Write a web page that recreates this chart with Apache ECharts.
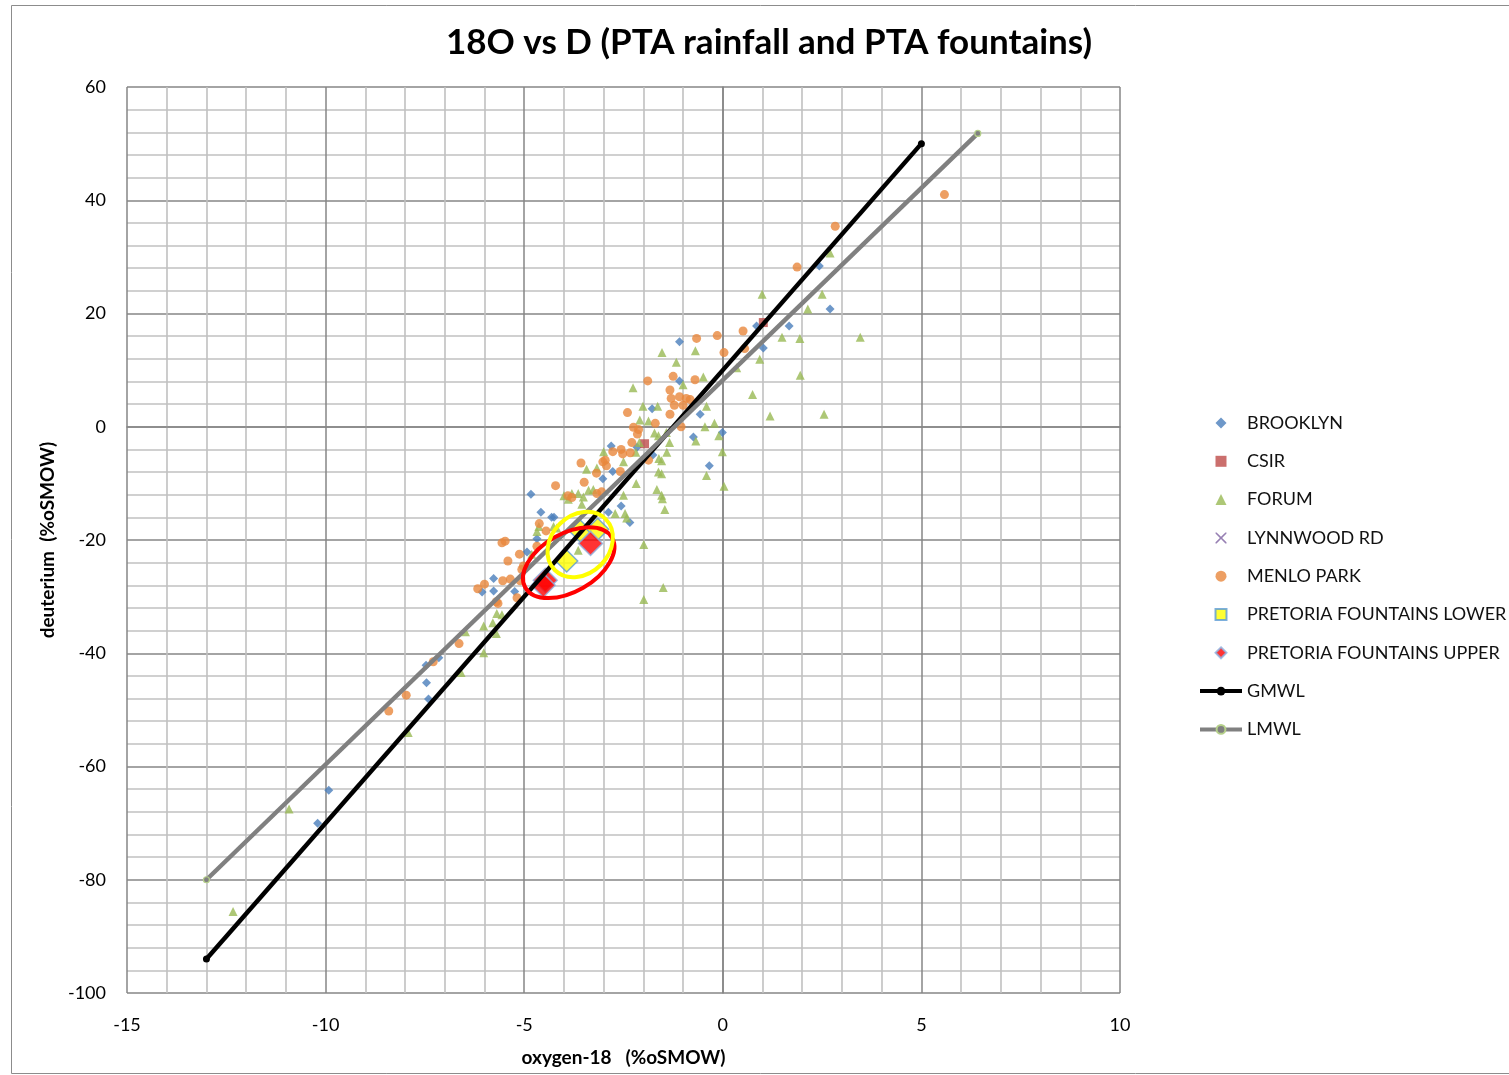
<!DOCTYPE html>
<html>
<head>
<meta charset="utf-8">
<script src="https://cdn.jsdelivr.net/npm/echarts@6/dist/echarts.min.js"></script>
<style>
html,body{margin:0;padding:0;background:#fff;}
#chart{width:1509px;height:1075px;}
</style>
</head>
<body>
<div id="chart"></div>
<script>
// ---------- DATA ----------
var titleText = '18O vs D (PTA rainfall and PTA fountains)';
var xAxisName = 'oxygen-18   (%oSMOW)';
var yAxisName = 'deuterium  (%oSMOW)';
var xTicks = [-15, -10, -5, 0, 5, 10];
var yTicks = [-100, -80, -60, -40, -20, 0, 20, 40, 60];

var brooklyn = [
  [2.43,28.4],[2.70,20.8],[0.85,17.8],[1.67,17.8],[1.02,13.9],[-1.09,15.0],[-1.09,8.1],
  [-1.78,3.2],[-0.57,2.2],[-0.74,-1.8],[-0.01,-1.0],[-2.16,-3.6],[-2.81,-3.4],[-1.76,-5.0],
  [-0.34,-6.9],[-2.77,-7.9],[-3.02,-9.2],[-4.83,-11.9],[-2.56,-14.0],[-2.88,-15.1],
  [-2.34,-16.9],[-4.58,-15.1],[-4.31,-16.0],[-4.25,-16.0],[-4.68,-19.8],[-4.93,-22.1],
  [-5.77,-26.8],[-6.06,-29.2],[-5.77,-29.0],[-5.24,-29.1],[-7.15,-40.8],[-7.47,-42.1],
  [-7.46,-45.2],[-7.41,-48.1],[-9.92,-64.2],[-10.2,-70.0]
];
var csir = [[1.02,18.4],[-1.97,-3.0]];
var forum = [
  [2.70,30.7],[0.99,23.4],[2.50,23.4],[2.14,20.8],[1.49,15.8],[1.94,15.6],[3.46,15.8],
  [0.93,11.9],[1.95,9.1],[0.75,5.7],[1.19,1.9],[2.55,2.2],
  [-1.53,13.1],[-0.69,13.4],[0.35,10.4],[-1.17,11.4],[-0.49,8.8],[-1.0,7.4],[-2.26,6.9],
  [-2.01,3.6],[-1.64,3.6],[-0.41,3.6],[-2.09,1.2],[-1.87,1.0],[-0.45,0.0],[-0.21,0.6],
  [-1.72,-1.1],[-1.62,-1.6],[-1.42,-1.0],[-0.68,-2.5],[-0.10,-1.6],[-1.34,-2.8],[-1.41,-4.5],
  [-3.0,-4.4],[-2.50,-6.2],[-1.61,-5.6],[-0.01,-4.4],[-0.41,-8.6],[-1.62,-8.0],[-1.54,-8.3],
  [-2.18,-10.0],[0.03,-10.5],[-1.66,-11.1],[-2.50,-12.1],[-1.54,-12.1],[-2.10,-2.8],
  [-2.19,-4.5],[-1.54,-6.0],[-3.43,-7.5],[-3.17,-7.3],
  [-4.0,-12.2],[-3.80,-11.8],[-3.64,-11.8],[-3.89,-12.8],[-3.38,-11.2],[-3.26,-11.1],
  [-3.51,-12.4],[-3.55,-13.7],[-2.71,-15.3],[-2.46,-15.3],[-2.42,-16.1],[-1.52,-12.7],
  [-1.46,-14.6],[-4.68,-18.5],[-4.63,-17.6],[-4.26,-17.6],[-4.18,-17.9],[-4.81,-22.5],
  [-3.64,-21.8],[-1.99,-20.8],[-1.50,-28.4],[-1.99,-30.5],[-5.69,-33.0],[-5.56,-33.2],
  [-5.79,-34.6],[-6.02,-35.2],[-5.70,-36.5],[-6.48,-36.2],[-6.02,-39.9],[-6.59,-43.4],
  [-7.92,-54.0],[-10.92,-67.5],[-12.33,-85.6]
];
var lynnwood = [];
var menlo = [
  [5.58,41.0],[2.83,35.4],[1.87,28.2],[0.51,16.9],[-0.14,16.1],[-0.66,15.6],[0.03,13.1],
  [0.55,13.8],[-1.89,8.1],[-1.25,8.9],[-0.70,8.3],[-1.33,6.5],[-1.09,5.3],[-0.92,5.0],
  [-0.82,4.8],[-1.30,5.0],[-1.22,3.8],[-1.0,3.8],[-2.40,2.5],[-1.33,2.2],[-1.70,0.6],
  [-1.05,0.0],[-2.25,-0.1],[-2.12,-0.5],[-2.15,-1.3],[-2.29,-2.8],[-2.56,-4.0],[-2.77,-4.4],
  [-2.52,-4.8],[-2.33,-4.6],[-1.87,-5.9],[-2.96,-5.9],[-3.02,-6.2],[-2.93,-6.9],[-2.58,-7.9],
  [-3.57,-6.4],[-3.18,-8.2],[-3.49,-9.8],[-4.21,-10.4],[-3.90,-12.2],[-3.80,-12.5],
  [-3.17,-11.8],[-3.05,-11.5],[-4.62,-17.1],[-4.45,-18.4],[-5.56,-20.5],[-5.48,-20.2],
  [-4.68,-21.1],[-5.12,-22.5],[-5.41,-23.7],[-5.02,-24.6],[-5.06,-25.2],[-5.54,-27.2],
  [-5.35,-26.9],[-5.10,-27.2],[-6.0,-27.8],[-6.17,-28.6],[-5.70,-30.9],[-5.66,-31.2],
  [-5.18,-30.2],[-6.64,-38.3],[-7.29,-41.5],[-7.97,-47.4],[-8.41,-50.2]
];
var ptaLower = [[-3.93,-23.7],[-3.59,-18.4],[-3.15,-18.1]];
var ptaUpper = [[-3.33,-20.6],[-4.47,-27.1],[-4.52,-28.0]];
var gmwl = [[-13,-94],[5,50]];
var lmwl = [[-13,-80],[6.42,51.8]];
// annotation ellipses (centres in data units)
var yellowRingCentre = [-3.59,-20.8];
var redRingCentre = [-3.88,-24.0];

// ---------- CHART ----------
var FONT = 'Lato, "Open Sans", sans-serif';
var chart = echarts.init(document.getElementById('chart'), null, {renderer:'canvas'});

var ICON_DIAMOND = 'path://M5,0L10,5L5,10L0,5Z';
var ICON_RECT = 'path://M0,0L10,0L10,10L0,10Z';
var ICON_TRI = 'path://M5,0L10,10L0,10Z';
var ICON_CIRCLE = 'path://M5,0A5,5,0,1,1,4.99,0Z';
var ICON_X = 'path://M0,0L1,0L5,4L9,0L10,0L10,1L6,5L10,9L10,10L9,10L5,6L1,10L0,10L0,9L4,5L0,1Z';

function sc(name, data, symbol, size, color, extra) {
  return {
    name: name, type: 'scatter', data: data, symbol: symbol, symbolSize: size,
    itemStyle: Object.assign({color: color}, extra || {}), z: 3, animation: false
  };
}

var axisCommon = {
  axisLine: {show: true, lineStyle: {color: '#868686', width: 1.5}},
  axisTick: {show: false},
  minorTick: {show: false, splitNumber: 5},
  splitLine: {show: true, lineStyle: {color: '#868686', width: 1.5}},
  minorSplitLine: {show: true, lineStyle: {color: '#c0c0c0', width: 1.6}},
  axisLabel: {color: '#000', fontFamily: FONT, fontSize: 18},
  nameTextStyle: {color: '#000', fontFamily: FONT, fontSize: 19, fontWeight: 'bold'}
};

var option = {
  backgroundColor: '#fff',
  animation: false,
  title: {
    text: titleText, left: 764, top: 20, textAlign: 'center',
    textStyle: {fontFamily: FONT, fontSize: 35, fontWeight: 'bold', color: '#000'}
  },
  grid: {left: 127, top: 87, width: 993, height: 906, containLabel: false},
  xAxis: Object.assign({}, axisCommon, {
    type: 'value', min: xTicks[0], max: xTicks[xTicks.length-1], interval: xTicks[1]-xTicks[0],
    name: xAxisName, nameLocation: 'middle', nameGap: 55,
    axisLabel: Object.assign({}, axisCommon.axisLabel, {margin: 23})
  }),
  yAxis: Object.assign({}, axisCommon, {
    type: 'value', min: yTicks[0], max: yTicks[yTicks.length-1], interval: yTicks[1]-yTicks[0],
    name: yAxisName, nameLocation: 'middle', nameGap: 67, nameRotate: 90,
    axisLabel: Object.assign({}, axisCommon.axisLabel, {margin: 21})
  }),
  legend: {
    orient: 'vertical', left: 1193, top: 408,
    itemWidth: 42, itemHeight: 11, itemGap: 18.3,
    textStyle: {fontFamily: FONT, fontSize: 18, color: '#111', lineHeight: 20},
    data: [
      {name: 'BROOKLYN', icon: ICON_DIAMOND},
      {name: 'CSIR', icon: ICON_RECT},
      {name: 'FORUM', icon: ICON_TRI},
      {name: 'LYNNWOOD RD', icon: ICON_X},
      {name: 'MENLO PARK', icon: ICON_CIRCLE},
      {name: 'PRETORIA FOUNTAINS LOWER', icon: ICON_RECT},
      {name: 'PRETORIA FOUNTAINS UPPER', icon: ICON_DIAMOND},
      {name: 'GMWL', lineStyle: {width: 4}},
      {name: 'LMWL', lineStyle: {width: 4}}
    ]
  },
  series: [
    sc('BROOKLYN', brooklyn, 'diamond', 9, '#4A7EBB'),
    sc('CSIR', csir, 'rect', 9, '#BE4B48'),
    sc('FORUM', forum, 'triangle', 9, '#98B954'),
    sc('LYNNWOOD RD', lynnwood, ICON_X, 12, '#7D60A0'),
    sc('MENLO PARK', menlo, 'circle', 9, '#E8873C'),
    sc('PRETORIA FOUNTAINS LOWER', ptaLower, 'diamond', 22, '#FFFF00',
       {borderColor: '#5B9BD5', borderWidth: 1.5}),
    sc('PRETORIA FOUNTAINS UPPER', ptaUpper, 'diamond', 24, '#FF0000',
       {borderColor: '#8DB3E2', borderWidth: 1.5}),
    {
      name: 'GMWL', type: 'line', data: gmwl, symbol: 'circle', symbolSize: 7,
      showSymbol: true, lineStyle: {color: '#000', width: 4.5},
      itemStyle: {color: '#000'}, z: 5, animation: false
    },
    {
      name: 'LMWL', type: 'line', data: lmwl, symbol: 'circle', symbolSize: 6,
      showSymbol: true, lineStyle: {color: '#808080', width: 4.5},
      itemStyle: {color: '#808080', borderColor: '#B5D08A', borderWidth: 1.2}, z: 5, animation: false
    }
  ]
};
chart.setOption(option);

function drawRings() {
  var y = chart.convertToPixel({xAxisIndex: 0, yAxisIndex: 0}, yellowRingCentre);
  var r = chart.convertToPixel({xAxisIndex: 0, yAxisIndex: 0}, redRingCentre);
  chart.setOption({
    graphic: [
      {type: 'rect', left: 9, top: 3, shape: {x: 0, y: 0, width: 1600, height: 1068},
       style: {fill: 'none', stroke: '#8c8c8c', lineWidth: 1}, silent: true, z: 0},
      {type: 'ellipse', x: r[0], y: r[1], rotation: Math.PI/6,
       shape: {cx: 0, cy: 0, rx: 50, ry: 29},
       style: {fill: 'none', stroke: '#FF0000', lineWidth: 4}, z: 100, silent: true},
      {type: 'ellipse', x: y[0], y: y[1], rotation: Math.PI/4,
       shape: {cx: 0, cy: 0, rx: 36, ry: 29},
       style: {fill: 'none', stroke: '#FFFF00', lineWidth: 4}, z: 101, silent: true}
    ]
  });
}
drawRings();
</script>
</body>
</html>
